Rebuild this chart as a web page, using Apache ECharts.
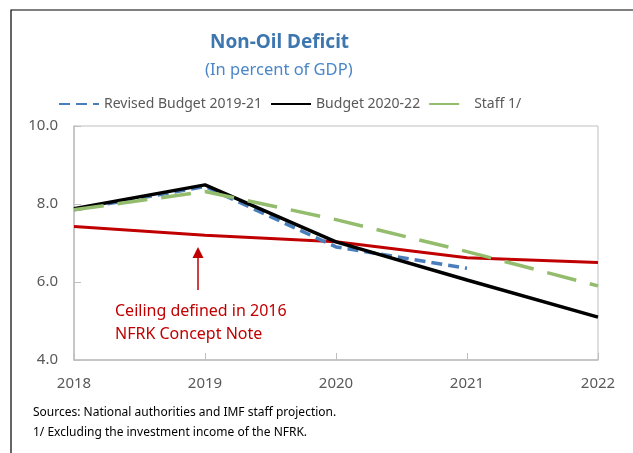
<!DOCTYPE html>
<html>
<head>
<meta charset="utf-8">
<script src="https://cdn.jsdelivr.net/npm/echarts@6/dist/echarts.min.js"></script>
<style>
  html, body { margin: 0; padding: 0; background: #fff; }
  #main { width: 633px; height: 453px; }
</style>
</head>
<body>
<div id="main"></div>
<script>
// data
var years = ['2018', '2019', '2020', '2021', '2022'];
var revisedBudget = [7.85, 8.45, 6.9, 6.35, null];
var budget2022 = [7.88, 8.49, 7.03, 6.05, 5.1];
var staff = [7.85, 8.32, 7.6, 6.78, 5.9];
var ceiling = [7.42, 7.2, 7.03, 6.62, 6.5];
var yTicks = [4, 6, 8, 10];

var chart = echarts.init(document.getElementById('main'));

var font = '"Noto Sans", "Open Sans", sans-serif';

var option = {
    animation: false,
    textStyle: { fontFamily: font },
    title: [{
        text: 'Non-Oil Deficit',
        left: 205,
        top: 28,
        textStyle: {
            fontFamily: font,
            fontSize: 19,
            fontWeight: 'bold',
            color: '#3E77B0'
        }
    }, {
        text: '(In percent of GDP)',
        left: 200,
        top: 57,
        textStyle: {
            fontFamily: font,
            fontSize: 16.5,
            fontWeight: 'normal',
            color: '#4A86C8'
        }
    }],
    legend: {
        top: 92,
        left: 53,
        itemWidth: 40,
        itemHeight: 10,
        itemGap: 8,
        itemStyle: { opacity: 0 },
        textStyle: { fontSize: 14, color: '#595959', fontFamily: font },
        data: ['Revised Budget 2019-21', 'Budget 2020-22', 'Staff 1/']
    },
    grid: {
        left: 74,
        right: 35,
        top: 126,
        bottom: 93,
        show: true,
        borderColor: '#BFBFBF',
        borderWidth: 1
    },
    xAxis: {
        type: 'category',
        boundaryGap: false,
        data: years,
        axisLine: { lineStyle: { color: '#BFBFBF', width: 1.5 } },
        axisTick: { inside: true, length: 7, lineStyle: { color: '#BFBFBF' } },
        axisLabel: { color: '#595959', fontSize: 15, margin: 16, fontFamily: font },
        splitLine: { show: false }
    },
    yAxis: {
        type: 'value',
        min: yTicks[0],
        max: yTicks[yTicks.length - 1],
        interval: 2,
        axisLine: { show: true, lineStyle: { color: '#BFBFBF', width: 1.5 } },
        axisTick: { show: true, inside: true, length: 7, lineStyle: { color: '#BFBFBF' } },
        axisLabel: {
            color: '#595959',
            fontSize: 15,
            margin: 16,
            fontFamily: font,
            formatter: function (v) { return v.toFixed(1); }
        },
        splitLine: { show: false }
    },
    series: [
        {
            name: 'Ceiling',
            type: 'line',
            symbol: 'none',
            data: ceiling,
            z: 1,
            lineStyle: { color: '#C00000', width: 3 },
            itemStyle: { color: '#C00000' }
        },
        {
            name: 'Revised Budget 2019-21',
            type: 'line',
            symbol: 'none',
            data: revisedBudget,
            z: 2,
            lineStyle: { color: '#4A7EBB', width: 3.5, type: [11, 6] },
            itemStyle: { color: '#4A7EBB' }
        },
        {
            name: 'Budget 2020-22',
            type: 'line',
            symbol: 'none',
            data: budget2022,
            z: 3,
            lineStyle: { color: '#000000', width: 3.5 },
            itemStyle: { color: '#000000' }
        },
        {
            name: 'Staff 1/',
            type: 'line',
            symbol: 'none',
            data: staff,
            z: 4,
            lineStyle: { color: '#93BD6C', width: 3.5, type: [30, 14] },
            itemStyle: { color: '#93BD6C' }
        }
    ],
    graphic: [
        // outer frame
        {
            type: 'rect',
            shape: { x: 11, y: 10, width: 660, height: 480 },
            style: { fill: 'none', stroke: '#000', lineWidth: 1.2 },
            silent: true
        },
        // annotation arrow
        {
            type: 'line',
            shape: { x1: 198, y1: 290, x2: 198, y2: 256 },
            style: { stroke: '#C00000', lineWidth: 1.5 }
        },
        {
            type: 'polygon',
            shape: { points: [[198, 247], [192.5, 258], [203.5, 258]] },
            style: { fill: '#C00000' }
        },
        {
            type: 'text',
            left: 115,
            top: 300,
            style: {
                text: 'Ceiling defined in 2016\nNFRK Concept Note',
                fill: '#C00000',
                fontSize: 16,
                lineHeight: 23,
                fontFamily: font
            }
        },
        {
            type: 'text',
            left: 33,
            top: 403,
            style: {
                text: 'Sources: National authorities and IMF staff projection.\n1/ Excluding the investment income of the NFRK.',
                fill: '#000',
                fontSize: 12,
                lineHeight: 20,
                fontFamily: font
            }
        }
    ]
};

chart.setOption(option);
</script>
</body>
</html>
